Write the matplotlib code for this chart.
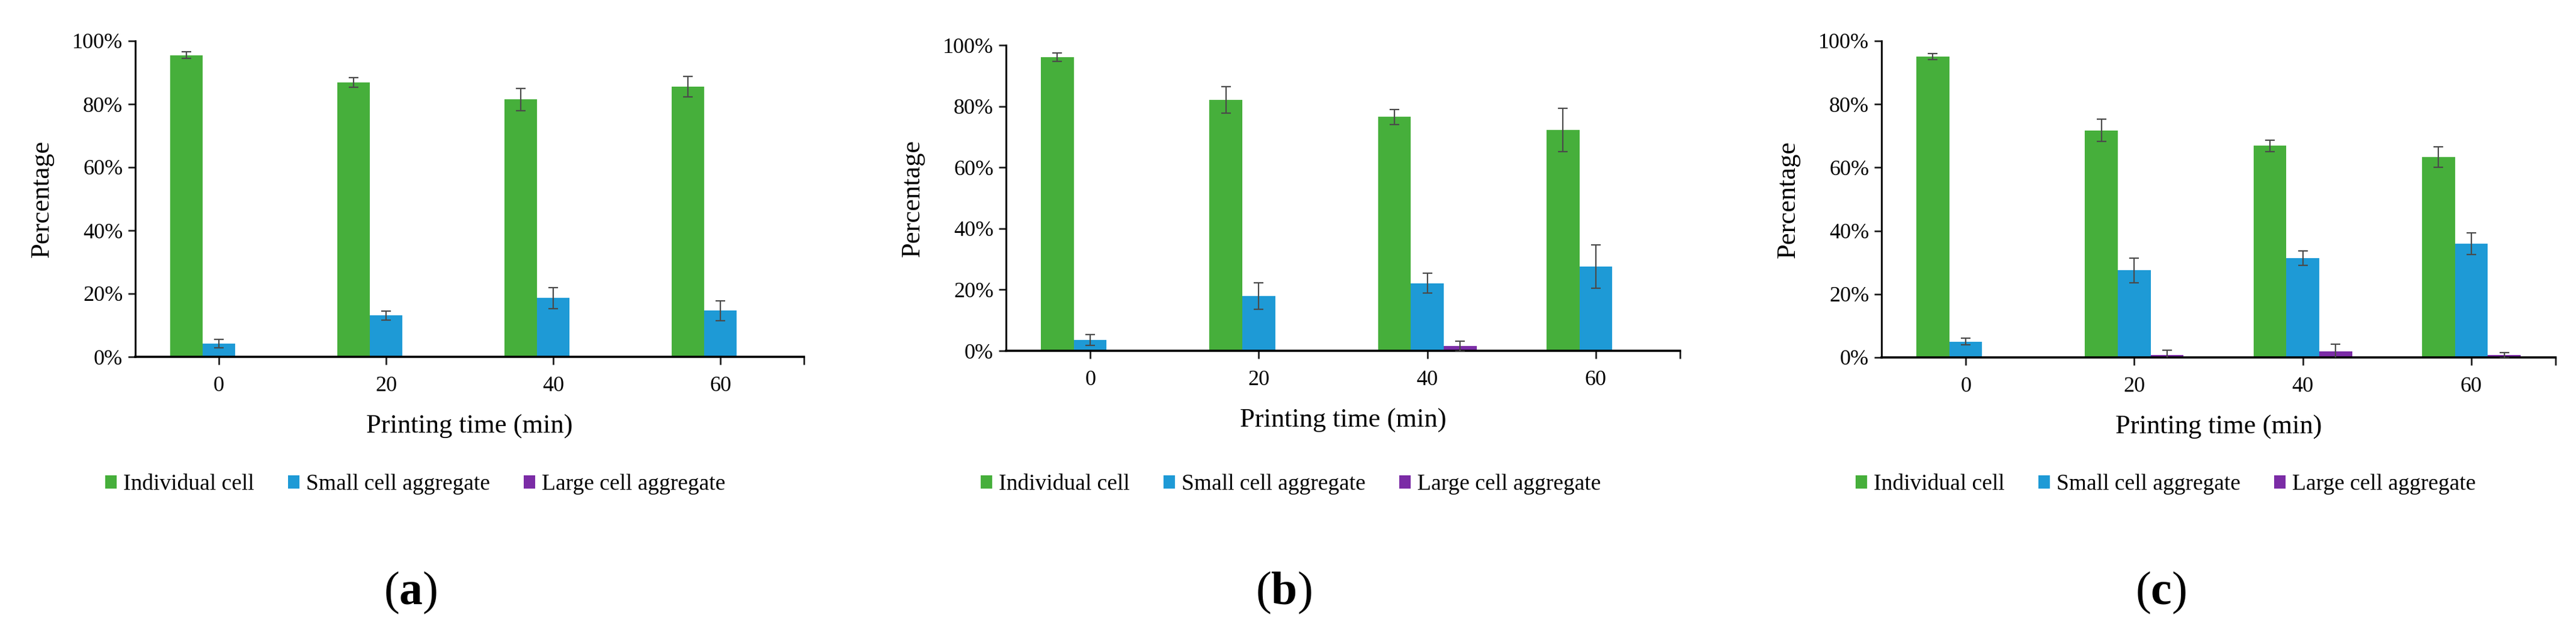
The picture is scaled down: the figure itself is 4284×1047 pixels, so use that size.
import matplotlib
matplotlib.use("Agg")
import matplotlib.pyplot as plt
from matplotlib.patches import Patch
from matplotlib.ticker import PercentFormatter

plt.rcParams['font.family'] = ['Liberation Serif', 'DejaVu Serif']
plt.rcParams['mathtext.fontset'] = 'custom'
plt.rcParams['mathtext.rm'] = 'Liberation Serif'
plt.rcParams['mathtext.bf'] = 'Liberation Serif:bold'

times = ['0', '20', '40', '60']
series_names = ['Individual cell', 'Small cell aggregate', 'Large cell aggregate']
colors = ['#46AF3B', '#1E9AD6', '#7B2CA6']
panel_labels = ['a', 'b', 'c']

# percentages and error bars
a_individual = [95.5, 86.9, 81.5, 85.5]
a_individual_err = [1.0, 1.5, 3.5, 3.2]
a_small = [4.2, 13.1, 18.6, 14.6]
a_small_err = [1.3, 1.4, 3.3, 3.2]
a_large = [0, 0, 0, 0]
a_large_err = [0, 0, 0, 0]

b_individual = [96.1, 82.1, 76.5, 72.3]
b_individual_err = [1.4, 4.3, 2.5, 7.1]
b_small = [3.6, 17.9, 22.1, 27.6]
b_small_err = [1.8, 4.4, 3.2, 7.1]
b_large = [0, 0, 1.5, 0]
b_large_err = [0, 0, 1.6, 0]

c_individual = [95.1, 71.7, 66.9, 63.3]
c_individual_err = [1.0, 3.5, 1.8, 3.2]
c_small = [5.0, 27.5, 31.4, 35.9]
c_small_err = [1.1, 3.9, 2.3, 3.4]
c_large = [0, 0.8, 1.9, 0.7]
c_large_err = [0, 1.5, 2.3, 0.9]

panels = [
    ([a_individual, a_small, a_large], [a_individual_err, a_small_err, a_large_err]),
    ([b_individual, b_small, b_large], [b_individual_err, b_small_err, b_large_err]),
    ([c_individual, c_small, c_large], [c_individual_err, c_small_err, c_large_err]),
]

W, H = 4284, 1047
fig = plt.figure(figsize=(W / 100, H / 100), dpi=100)

# axes boxes in pixels: left, right, top, bottom
boxes = [(225, 1337, 68, 593), (1673, 2794, 75, 583), (3129, 4250, 68, 594)]
legend_x = [691, 2147, 3602]
label_x = [683, 2135, 3593]

width = 0.195
for p, (vals, errs) in enumerate(panels):
    l, r, t, b = boxes[p]
    ax = fig.add_axes([l / W, 1 - b / H, (r - l) / W, (b - t) / H])
    x = list(range(len(times)))
    for i in range(3):
        pos = [xi + (i - 1) * width for xi in x]
        ax.bar(pos, vals[i], width, color=colors[i], zorder=2)
        ex = [pos[j] for j in range(len(x)) if vals[i][j] > 0]
        ey = [vals[i][j] for j in range(len(x)) if vals[i][j] > 0]
        ee = [errs[i][j] for j in range(len(x)) if vals[i][j] > 0]
        ax.errorbar(ex, ey, yerr=ee, fmt='none', ecolor='#4a4a4a',
                    elinewidth=1.6, capsize=6, capthick=1.6, zorder=3)
    ax.set_xlim(-0.5, 3.5)
    ax.set_ylim(0, 100)
    ax.set_yticks([0, 20, 40, 60, 80, 100])
    ax.yaxis.set_major_formatter(PercentFormatter(decimals=0))
    ax.set_xticks(x)
    ax.set_xticklabels(times)
    ax.set_xticks([3.5], minor=True)
    for s in ['top', 'right']:
        ax.spines[s].set_visible(False)
    ax.spines['left'].set_linewidth(2.2)
    ax.spines['bottom'].set_linewidth(2.6)
    ax.tick_params(axis='both', which='both', width=2, length=9, labelsize=26,
                   color='#222222')
    ax.tick_params(axis='x', pad=14)
    ax.tick_params(axis='y', pad=6)
    ax.set_xlabel('Printing time (min)', fontsize=32, labelpad=22)
    ax.set_ylabel('Percentage', fontsize=32, labelpad=22)

    handles = [Patch(facecolor=c, edgecolor='none') for c in colors]
    fig.legend(handles, series_names, loc='center',
               bbox_to_anchor=(legend_x[p] / W, 1 - 805 / H), ncol=3,
               frameon=False, fontsize=27, handlelength=0.5, handleheight=0.55,
               handletextpad=0.3, columnspacing=1.5)
    fig.text(label_x[p] / W, 1 - 985 / H, '($\\mathbf{' + panel_labels[p] + '}$)',
             ha='center', va='center', fontsize=56)

fig.savefig('out.png', dpi=100)
